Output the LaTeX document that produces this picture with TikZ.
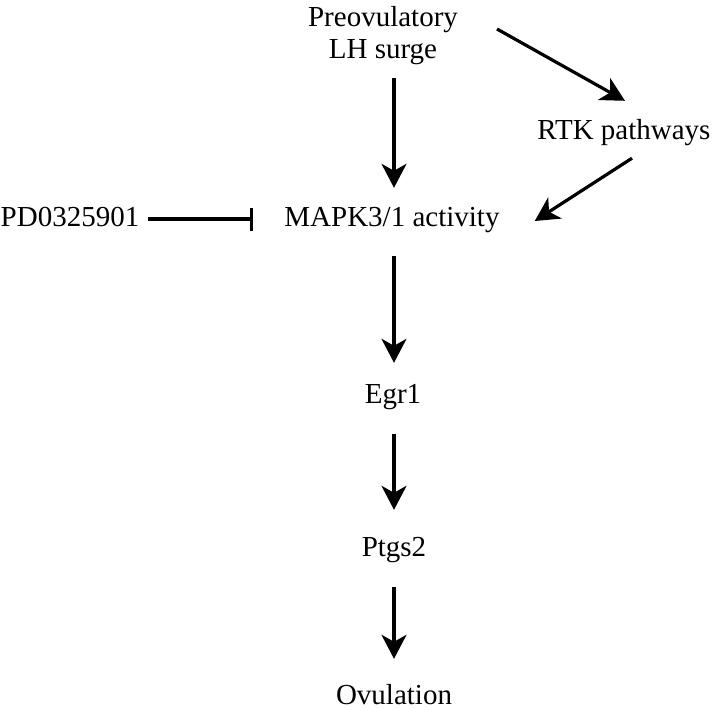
\documentclass[tikz,border=0pt]{standalone}
\usepackage{fontspec}
\setmainfont{Liberation Serif}
\usetikzlibrary{arrows.meta}
\begin{document}
\begin{tikzpicture}[x=1pt,y=-1pt,
  lbl/.style={font=\fontsize{29}{32}\selectfont, inner sep=0pt, text height=21pt, text depth=7pt, anchor=base},
  act/.style={line width=3.2pt, -{Stealth[length=24pt,width=25pt,inset=7pt]}},
  inh/.style={line width=3.2pt, -{Bar[width=23pt]}}]
\useasboundingbox (0,0) rectangle (714,709);
\node[font=\fontsize{29}{32}\selectfont, inner sep=0pt, align=center, anchor=north] (lh) at (383,6) {Preovulatory\\LH surge};
\node[lbl] (rtk) at (624,139) {RTK pathways};
\node[lbl] (mapk) at (392,226) {MAPK3/1 activity};
\node[lbl] (pd) at (70,226) {PD0325901};
\node[lbl] (egr) at (393,403) {Egr1};
\node[lbl] (ptgs) at (394,556) {Ptgs2};
\node[lbl] (ovu) at (394,704) {Ovulation};
\coordinate (ax) at (394,0);
\draw[act] ([yshift=-72pt]lh.north -| ax) -- ([yshift=17pt]mapk.north -| ax);
\draw[act] ([shift={(114,23)}]lh.north) -- ([shift={(1,-17)}]rtk.north);
\draw[act] ([shift={(8,12)}]rtk.south) -- ([shift={(35,2)}]mapk.east);
\draw[inh] ([xshift=9pt]pd.east) -- ([xshift=-31pt]mapk.west);
\draw[act] ([yshift=-23pt]mapk.south -| ax) -- ([yshift=19pt]egr.north -| ax);
\draw[act] ([yshift=-24pt]egr.south -| ax) -- ([yshift=25pt]ptgs.north -| ax);
\draw[act] ([yshift=-24pt]ptgs.south -| ax) -- ([yshift=24pt]ovu.north -| ax);
\end{tikzpicture}
\end{document}
